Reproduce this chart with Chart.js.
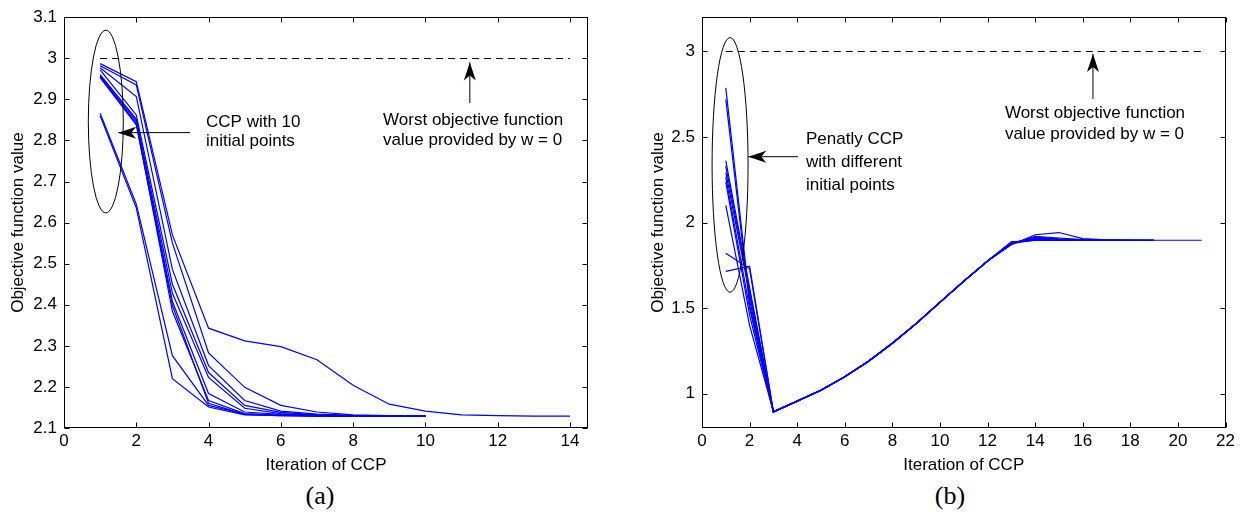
<!DOCTYPE html>
<html>
<head>
<meta charset="utf-8">
<script src="https://cdn.jsdelivr.net/npm/chart.js@4.4.1/dist/chart.umd.min.js"></script>
<style>
body{margin:0;background:#fff;width:1241px;height:525px;position:relative;overflow:hidden;}
.plot{position:absolute;top:0;height:480px;}
.cap{position:absolute;top:481px;width:100px;text-align:center;font:26px "Liberation Serif","Times New Roman",serif;color:#000;}
</style>
</head>
<body>
<div class="plot" style="left:0;width:620px"><canvas id="chartA" width="620" height="480"></canvas></div>
<div class="plot" style="left:640px;width:601px"><canvas id="chartB" width="601" height="480"></canvas></div>
<div class="cap" style="left:270px">(a)</div>
<div class="cap" style="left:900px">(b)</div>
<script>
// ================= DATA (a): CCP, 10 initial points =================
// objective value per iteration, iteration 1 first
const ccp1=[2.987,2.943,2.570,2.343,2.312,2.298,2.266,2.204,2.158,2.141,2.132,2.130,2.129,2.129];
const ccp2=[2.982,2.935,2.550,2.283,2.199,2.155,2.139,2.132,2.130,2.129];
const ccp3=[2.977,2.907,2.486,2.252,2.167,2.141,2.134,2.131,2.130,2.129];
const ccp4=[2.972,2.862,2.450,2.235,2.155,2.138,2.132,2.130,2.129,2.129];
const ccp5=[2.960,2.852,2.428,2.223,2.148,2.135,2.131,2.130,2.129,2.129];
const ccp6=[2.957,2.847,2.408,2.184,2.139,2.133,2.130,2.129,2.129,2.129];
const ccp7=[2.955,2.842,2.384,2.167,2.135,2.131,2.130,2.129,2.129];
const ccp8=[2.953,2.838,2.398,2.160,2.133,2.130,2.129,2.129];
const ccp9=[2.866,2.645,2.276,2.155,2.134,2.131,2.130,2.129,2.129,2.129];
const ccp10=[2.860,2.636,2.220,2.151,2.132,2.130,2.129,2.129,2.129,2.129];
const xTicksA=[0,2,4,6,8,10,12,14];
const yTicksA=[2.1,2.2,2.3,2.4,2.5,2.6,2.7,2.8,2.9,3,3.1];
const worstA=3;

// ================= DATA (b): penalty CCP =================
const pen1=[2.787,1.550,0.894,0.957,1.021,1.099,1.190,1.295,1.410,1.534,1.657,1.775,1.871,1.929,1.942,1.906,1.899,1.898,1.897];
const pen2=[2.720,1.520,0.893,0.957,1.021,1.099,1.190,1.295,1.410,1.534,1.657,1.775,1.875,1.915,1.905,1.899,1.898,1.897,1.897];
const pen3=[2.362,1.620,0.895,0.958,1.022,1.100,1.191,1.296,1.411,1.535,1.658,1.776,1.880,1.908,1.900,1.898,1.897,1.897,1.897];
const pen4=[2.330,1.600,0.894,0.957,1.021,1.100,1.190,1.295,1.410,1.535,1.658,1.776,1.884,1.903,1.899];
const pen5=[2.294,1.580,0.894,0.957,1.021,1.099,1.190,1.295,1.410,1.534,1.657,1.775,1.877,1.899,1.898,1.897,1.897];
const pen6=[2.265,1.500,0.893,0.956,1.020,1.099,1.189,1.294,1.409,1.534,1.657,1.775,1.886,1.897,1.897,1.897,1.897,1.897,1.897];
const pen7=[2.236,1.460,0.894,0.957,1.021,1.099,1.190,1.295,1.410,1.534,1.658,1.776,1.882,1.901,1.898,1.897];
const pen8=[2.101,1.400,0.895,0.958,1.022,1.100,1.191,1.296,1.411,1.535,1.658,1.776,1.887,1.896,1.897,1.897,1.897,1.897,1.897,1.897,1.897];
const pen9=[1.821,1.730,0.894,0.957,1.021,1.099,1.190,1.295,1.410,1.535,1.658,1.775,1.879,1.911,1.902,1.898,1.897,1.897,1.897];
const pen10=[1.715,1.745,0.894,0.957,1.021,1.100,1.190,1.295,1.410,1.534,1.657,1.775,1.873,1.920,1.910,1.900,1.898,1.897];
const xTicksB=[0,2,4,6,8,10,12,14,16,18,20,22];
const yTicksB=[1,1.5,2,2.5,3];
const worstB=3;

const FONT="'Liberation Sans', Arial, Helvetica, sans-serif";
Chart.defaults.font.family=FONT;
Chart.defaults.font.size=17;
Chart.defaults.color="#000";

// ================= BOX + INWARD TICKS =================
const framePlugin={
id:"frame",
afterDatasetsDraw(chart){
let {ctx,chartArea:a,scales:{x,y}}=chart;
let L=Math.round(a.left)+0.5,R=Math.round(a.right)-0.5,T=Math.round(a.top)+0.5,B=Math.round(a.bottom)-0.5;
ctx.save();
ctx.strokeStyle="#000";ctx.lineWidth=1;
ctx.strokeRect(L,T,R-L,B-T);
ctx.beginPath();
x.ticks.forEach(t=>{
let p=Math.round(x.getPixelForValue(t.value))+0.5;
ctx.moveTo(p,B);ctx.lineTo(p,B-5);
ctx.moveTo(p,T);ctx.lineTo(p,T+5);
});
y.ticks.forEach(t=>{
let p=Math.round(y.getPixelForValue(t.value))+0.5;
ctx.moveTo(L,p);ctx.lineTo(L+5,p);
ctx.moveTo(R,p);ctx.lineTo(R-5,p);
});
ctx.stroke();
ctx.restore();
}
};

// ================= ANNOTATIONS =================
function arrowHead(ctx,x1,y1,x2,y2){
let ang=Math.atan2(y2-y1,x2-x1),len=18,hw=6,notch=13;
let c=Math.cos(ang),s=Math.sin(ang);
ctx.beginPath();
ctx.moveTo(x2,y2);
ctx.lineTo(x2-len*c+hw*s,y2-len*s-hw*c);
ctx.lineTo(x2-notch*c,y2-notch*s);
ctx.lineTo(x2-len*c-hw*s,y2-len*s+hw*c);
ctx.closePath();
ctx.fill();
}

function notesPlugin(n){
return {
id:"notes",
afterDatasetsDraw(chart){
let {ctx,scales:{x,y}}=chart;
ctx.save();
ctx.strokeStyle="#000";ctx.fillStyle="#000";ctx.lineWidth=1;

// worst value line
ctx.setLineDash([7,5]);
ctx.beginPath();
let wy=Math.round(y.getPixelForValue(n.worst))+0.5;
ctx.moveTo(x.getPixelForValue(n.dash[0]),wy);
ctx.lineTo(x.getPixelForValue(n.dash[1]),wy);
ctx.stroke();
ctx.setLineDash([]);

// ellipse round the starting points
let e=n.ellipse;
let cx=x.getPixelForValue(e.x),cy=y.getPixelForValue(e.y);
let rx=Math.abs(x.getPixelForValue(e.x+e.rx)-cx),ry=Math.abs(y.getPixelForValue(e.y+e.ry)-cy);
ctx.beginPath();
ctx.ellipse(cx,cy,rx,ry,0,0,Math.PI*2);
ctx.stroke();

n.arrows.forEach(a=>{
let x1=x.getPixelForValue(a[0]),y1=y.getPixelForValue(a[1]);
let x2=x.getPixelForValue(a[2]),y2=y.getPixelForValue(a[3]);
ctx.beginPath();ctx.moveTo(x1,y1);ctx.lineTo(x2,y2);ctx.stroke();
arrowHead(ctx,x1,y1,x2,y2);
});

ctx.font="17px "+FONT;
ctx.textAlign="left";ctx.textBaseline="middle";
n.texts.forEach(t=>{
let tx=x.getPixelForValue(t.x),ty=y.getPixelForValue(t.y);
t.lines.forEach((s,i)=>ctx.fillText(s,tx,ty+i*t.gap));
});
ctx.restore();
}
};
}

// ================= CHART BUILDER =================
function buildChart(id,runs,xMax,yMin,yMax,xTicks,yTicks,yWidth,padRight,notes){
return new Chart(document.getElementById(id),{
type:"line",
data:{
datasets:runs.map(r=>({
data:r.map((v,i)=>({x:i+1,y:v})),
borderColor:"#0000ff",
borderWidth:1.2,
pointRadius:0,
tension:0,
fill:false
}))
},
options:{
responsive:false,
animation:false,
layout:{padding:{left:0,top:13.5,right:padRight,bottom:0}},
plugins:{legend:{display:false},tooltip:{enabled:false}},
scales:{
x:{
type:"linear",min:0,max:xMax,
afterBuildTicks:s=>{s.ticks=xTicks.map(v=>({value:v}))},
afterFit:s=>{s.height=52},
grid:{display:false,drawTicks:false},
border:{display:false},
ticks:{padding:3,maxRotation:0,autoSkip:false},
title:{display:true,text:"Iteration of CCP",padding:{top:0,bottom:4}}
},
y:{
type:"linear",min:yMin,max:yMax,
afterBuildTicks:s=>{s.ticks=yTicks.map(v=>({value:v}))},
afterFit:s=>{s.width=yWidth},
grid:{display:false,drawTicks:false},
border:{display:false},
ticks:{padding:7,autoSkip:false,callback:v=>String(+v.toFixed(2))},
title:{display:true,text:"Objective function value",padding:{top:8,bottom:0}}
}
}
},
plugins:[framePlugin,notesPlugin(notes)]
});
}

buildChart("chartA",[ccp1,ccp2,ccp3,ccp4,ccp5,ccp6,ccp7,ccp8,ccp9,ccp10],14.5,2.1,3.1,xTicksA,yTicksA,64,32,{
worst:worstA,dash:[1,14],
ellipse:{x:1.157,y:2.846,rx:0.484,ry:0.2224},
arrows:[[3.49,2.819,1.50,2.819],[11.23,2.891,11.23,2.99]],
texts:[
{x:3.93,y:2.843,gap:19,lines:["CCP with 10","initial points"]},
{x:8.83,y:2.85,gap:20,lines:["Worst objective function","value provided by w = 0"]}
]
});

buildChart("chartB",[pen1,pen2,pen3,pen4,pen5,pen6,pen7,pen8,pen9,pen10],22,0.8,3.2,xTicksB,yTicksB,62,15.5,{
worst:worstB,dash:[1,21],
ellipse:{x:1.18,y:2.337,rx:0.756,ry:0.744},
arrows:[[4.03,2.385,1.945,2.385],[16.43,2.722,16.43,2.985]],
texts:[
{x:4.37,y:2.485,gap:23,lines:["Penatly CCP","with different","initial points"]},
{x:12.73,y:2.641,gap:21,lines:["Worst objective function","value provided by w = 0"]}
]
});
</script>
</body>
</html>
